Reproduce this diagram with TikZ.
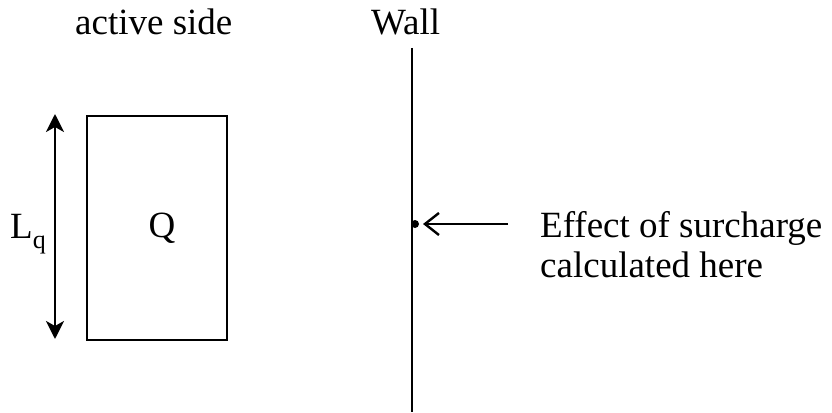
\documentclass[tikz,border=0pt]{standalone}
\usepackage{fontspec}
\setmainfont{Liberation Serif}
\usetikzlibrary{arrows.meta}
\tikzset{dimtip/.tip={Stealth[length=18pt,width=18pt,inset=5pt]}}
\begin{document}
\begin{tikzpicture}[x=1pt,y=-1pt,
  lbl/.style={inner sep=0pt,font=\fontsize{37}{40}\selectfont},
  thick line/.style={line width=2.4pt}]
\useasboundingbox (0,0) rectangle (832,412);
% texts
\node[lbl,anchor=base west] (active) at (75,35) {active side};
\node[lbl,anchor=base west] (walllbl) at (371,35) {Wall};
% rectangle Q
\node[draw,thick line,minimum width=140pt,minimum height=224pt,inner sep=0pt,anchor=north west] (box) at (86,115) {};
\node[lbl,anchor=base] (Q) at (162,237) {Q};
% dimension arrow
\coordinate (atop) at (55,114);
\coordinate (abot) at (55,339);
\draw[thick line,dimtip-dimtip] (atop) -- (abot);
\node[lbl,anchor=base west] (Lq) at (10,238) {L\raisebox{-0.28em}{\fontsize{26}{28}\selectfont q}};
% wall
\coordinate (wtop) at (412,48);
\coordinate (wbot) at (412,412);
\draw[thick line] (wtop) -- (wbot);
\coordinate (pt) at (415,224);
\fill (pt) circle (4pt);
\coordinate (arrstart) at (508,224);
\coordinate (arrend) at (423,224);
\draw[thick line,-{Straight Barb[length=14pt,width=22pt]}] (arrstart) -- (arrend);
\node[lbl,anchor=base west] (eff1) at (540,237) {Effect of surcharge};
\node[lbl,anchor=base west] (eff2) at (540,277) {calculated here};
\end{tikzpicture}
\end{document}
